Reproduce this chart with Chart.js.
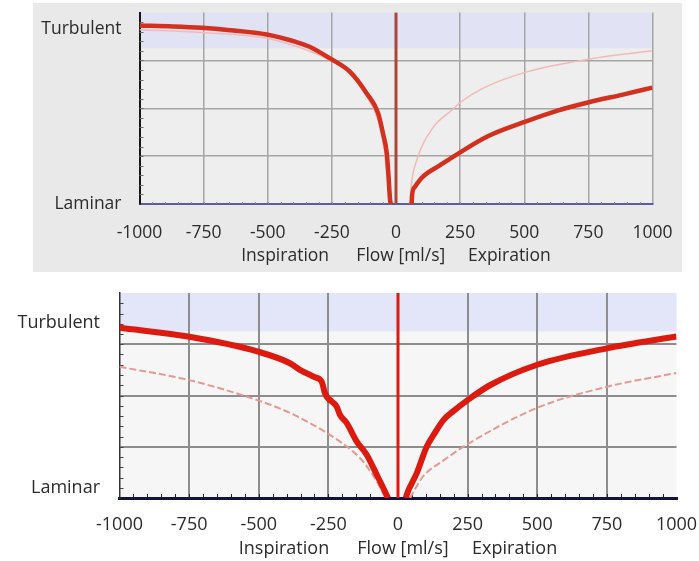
<!DOCTYPE html>
<html>
<head>
<meta charset="utf-8">
<script src="https://cdn.jsdelivr.net/npm/chart.js@4.4.1/dist/chart.umd.min.js"></script>
<style>
  html, body { margin: 0; padding: 0; background: #fff; }
  body { width: 699px; height: 561px; position: relative; overflow: hidden; }
  .panel { position: absolute; }
  #topPanel { left: 33px; top: 3px; width: 649px; height: 269px; background: #e9e9e9; }
  #bottomPanel { left: 0; top: 280px; width: 699px; height: 281px; background: #fff; }
</style>
</head>
<body>
<div class="panel" id="topPanel"><canvas id="topChart"></canvas></div>
<div class="panel" id="bottomPanel"><canvas id="bottomChart"></canvas></div>
<script>
const flowTicks = [-1000, -750, -500, -250, 0, 250, 500, 750, 1000];
const levelLabels = ['Laminar', 'Turbulent'];
const turbulentBand = [3.25, 4];
const flowTitle = 'Inspiration      Flow [ml/s]     Expiration';

// upper panel: measured curve (thick) and reference curve (thin)
const topInspFlow = [-1000, -870, -757, -647, -504, -387, -335, -257, -179, -114, -70, -51, -36, -30, -23, -20];
const topInspLevel = [3.73, 3.71, 3.68, 3.63, 3.54, 3.38, 3.28, 3.04, 2.76, 2.31, 1.90, 1.48, 1.06, 0.65, 0.08, 0];
const topExpFlow = [61, 63, 74, 105, 172, 250, 360, 510, 630, 756, 880, 1000];
const topExpLevel = [0, 0.2, 0.36, 0.57, 0.81, 1.08, 1.42, 1.73, 1.95, 2.13, 2.28, 2.43];
const topRefInspFlow = [-1000, -757, -504, -335, -257, -179, -114, -70, -45, -25];
const topRefInspLevel = [3.64, 3.58, 3.46, 3.19, 3.0, 2.72, 2.25, 1.75, 1.1, 0];
const topRefExpFlow = [55, 60, 80, 145, 222, 250, 340, 510, 756, 1000];
const topRefExpLevel = [0, 0.4, 0.9, 1.6, 1.98, 2.12, 2.42, 2.76, 3.03, 3.2];
const topLabelLevels = [0, 3.65];

// lower panel
const bottomInspFlow = [-1000, -754, -499, -388, -352, -300, -274, -262, -220, -208, -184, -148, -112, -76, -41, -36];
const bottomInspLevel = [3.32, 3.15, 2.85, 2.63, 2.50, 2.36, 2.27, 2.04, 1.78, 1.62, 1.46, 1.10, 0.84, 0.45, 0.06, 0];
const bottomExpFlow = [28, 31, 67, 103, 130, 163, 200, 250, 330, 500, 750, 1000];
const bottomExpLevel = [0, 0.06, 0.48, 1.0, 1.25, 1.52, 1.70, 1.91, 2.2, 2.6, 2.92, 3.15];
const bottomRefInspFlow = [-1000, -750, -500, -388, -250, -160, -125, -76, -45];
const bottomRefInspLevel = [2.56, 2.30, 1.9, 1.66, 1.25, 0.90, 0.71, 0.32, 0];
const bottomRefExpFlow = [43, 90, 160, 250, 500, 750, 1000];
const bottomRefExpLevel = [0, 0.42, 0.72, 1.05, 1.76, 2.17, 2.44];
const bottomLabelLevels = [0.2, 3.41];

const toPoints = (flows, levels) => flows.map((x, i) => ({ x, y: levels[i] }));

// plot background, turbulent band and the small ticks along both axes
const bandAndTicks = {
  id: 'bandAndTicks',
  beforeDraw(chart, args, opts) {
    const { ctx, chartArea: a, scales: { y } } = chart;
    ctx.save();
    ctx.fillStyle = opts.plotColor;
    ctx.fillRect(a.left, a.top, a.width, a.height);
    const bandTop = y.getPixelForValue(turbulentBand[1]);
    const bandBottom = y.getPixelForValue(turbulentBand[0]);
    ctx.fillStyle = opts.bandColor;
    ctx.fillRect(a.left, bandTop, a.width, bandBottom - bandTop);
    ctx.restore();
  },
  beforeDatasetsDraw(chart, args, opts) {
    const { ctx, chartArea: a, scales: { x, y } } = chart;
    ctx.save();
    ctx.lineWidth = 1;
    ctx.strokeStyle = opts.yTickColor;
    for (let i = 1; i < 20; i++) {
      const py = Math.round(y.getPixelForValue(i * 0.2)) + 0.5;
      ctx.beginPath();
      ctx.moveTo(a.left, py);
      ctx.lineTo(a.left + opts.yTickLength, py);
      ctx.stroke();
    }
    ctx.strokeStyle = opts.xTickColor;
    for (let i = -19; i < 20; i++) {
      const px = Math.round(x.getPixelForValue(i * 50)) + 0.5;
      ctx.beginPath();
      ctx.moveTo(px, a.bottom);
      ctx.lineTo(px, a.bottom - opts.xTickLength);
      ctx.stroke();
    }
    ctx.restore();
  },
};

function buildChart(canvasId, s) {
  const font = { family: "'Open Sans', sans-serif", size: s.fontSize };
  return new Chart(document.getElementById(canvasId), {
    type: 'line',
    data: {
      datasets: [
        { data: toPoints(s.inspFlow, s.inspLevel), borderColor: s.thickColor, borderWidth: s.thickWidth },
        { data: toPoints(s.expFlow, s.expLevel), borderColor: s.thickColor, borderWidth: s.thickWidth },
        { data: toPoints(s.refInspFlow, s.refInspLevel), borderColor: s.refColor, borderWidth: s.refWidth, borderDash: s.refDash },
        { data: toPoints(s.refExpFlow, s.refExpLevel), borderColor: s.refColor, borderWidth: s.refWidth, borderDash: s.refDash },
        { data: [{ x: 0, y: 0 }, { x: 0, y: 4 }], borderColor: s.zeroColor, borderWidth: s.zeroWidth, cubicInterpolationMode: 'default', tension: 0 },
      ],
    },
    options: {
      responsive: true,
      maintainAspectRatio: false,
      animation: false,
      events: [],
      layout: { padding: s.padding },
      elements: {
        point: { radius: 0 },
        line: { cubicInterpolationMode: 'monotone', borderJoinStyle: 'round', borderCapStyle: 'butt' },
      },
      plugins: {
        legend: { display: false },
        tooltip: { enabled: false },
        bandAndTicks: s.decor,
      },
      scales: {
        x: {
          type: 'linear',
          min: -1000,
          max: 1000,
          afterBuildTicks: sc => { sc.ticks = flowTicks.map(value => ({ value })); },
          afterFit: sc => {
            sc.height = s.xHeight;
            sc.paddingLeft = 0;
            sc.paddingRight = 0;
          },
          grid: {
            drawTicks: false,
            lineWidth: s.gridWidth,
            color: c => (c.tick.value > -1000 && (c.tick.value < 1000 || s.rightGrid)) ? s.gridColor : 'transparent',
          },
          border: { color: s.xAxisColor, width: s.xAxisWidth },
          ticks: {
            autoSkip: false,
            maxRotation: 0,
            padding: s.xTickPadding,
            color: '#2b2b2b',
            font,
            callback: value => String(value),
          },
          title: { display: true, text: flowTitle, color: '#2b2b2b', font, padding: { top: 0, bottom: s.titlePadding } },
        },
        y: {
          min: 0,
          max: 4,
          afterBuildTicks: sc => {
            sc.ticks = [1, 2, 3].concat(s.labelLevels).sort((a, b) => a - b).map(value => ({ value }));
          },
          afterFit: sc => {
            sc.width = s.yWidth;
            sc.paddingTop = 0;
            sc.paddingBottom = 0;
          },
          grid: {
            drawTicks: false,
            lineWidth: s.gridWidth,
            color: c => [1, 2, 3].includes(c.tick.value) ? s.gridColor : 'transparent',
          },
          border: { color: s.yAxisColor, width: s.yAxisWidth },
          ticks: {
            padding: s.yTickPadding,
            color: '#2b2b2b',
            font,
            callback: value => {
              const i = s.labelLevels.indexOf(value);
              return i >= 0 ? levelLabels[i] : '';
            },
          },
        },
      },
    },
    plugins: [bandAndTicks],
  });
}

buildChart('topChart', {
  inspFlow: topInspFlow, inspLevel: topInspLevel,
  expFlow: topExpFlow, expLevel: topExpLevel,
  refInspFlow: topRefInspFlow, refInspLevel: topRefInspLevel,
  refExpFlow: topRefExpFlow, refExpLevel: topRefExpLevel,
  labelLevels: topLabelLevels,
  thickColor: '#d3301f', thickWidth: 4.5,
  refColor: '#f2b9b5', refWidth: 1.5, refDash: [],
  zeroColor: '#a9473a', zeroWidth: 3,
  gridColor: '#a5a5a5', gridWidth: 1.5, rightGrid: true,
  xAxisColor: '#5b5ba3', xAxisWidth: 2,
  yAxisColor: '#151515', yAxisWidth: 2,
  fontSize: 17.5,
  padding: { left: 0, right: 29.5, top: 9.5, bottom: 0 },
  yWidth: 106.5, xHeight: 68,
  xTickPadding: 19, yTickPadding: 18, titlePadding: 5,
  decor: { plotColor: '#eeeeee', bandColor: '#e1e2f3', yTickColor: '#6a6a6a', yTickLength: 4, xTickColor: '#8a8ab8', xTickLength: 2 },
});

buildChart('bottomChart', {
  inspFlow: bottomInspFlow, inspLevel: bottomInspLevel,
  expFlow: bottomExpFlow, expLevel: bottomExpLevel,
  refInspFlow: bottomRefInspFlow, refInspLevel: bottomRefInspLevel,
  refExpFlow: bottomRefExpFlow, refExpLevel: bottomRefExpLevel,
  labelLevels: bottomLabelLevels,
  thickColor: '#dc1a10', thickWidth: 6,
  refColor: '#e29a92', refWidth: 2, refDash: [7, 3],
  zeroColor: '#dc1a10', zeroWidth: 3,
  gridColor: '#8d8d8d', gridWidth: 2, rightGrid: false,
  xAxisColor: '#12123a', xAxisWidth: 3,
  yAxisColor: '#333333', yAxisWidth: 1.5,
  fontSize: 18,
  padding: { left: 0, right: 22.5, top: 13, bottom: 0 },
  yWidth: 119.5, xHeight: 63,
  xTickPadding: 16, yTickPadding: 19.5, titlePadding: 1,
  decor: { plotColor: '#f6f6f6', bandColor: '#e3e5f8', yTickColor: '#444444', yTickLength: 4, xTickColor: '#222222', xTickLength: 4 },
});
</script>
</body>
</html>
